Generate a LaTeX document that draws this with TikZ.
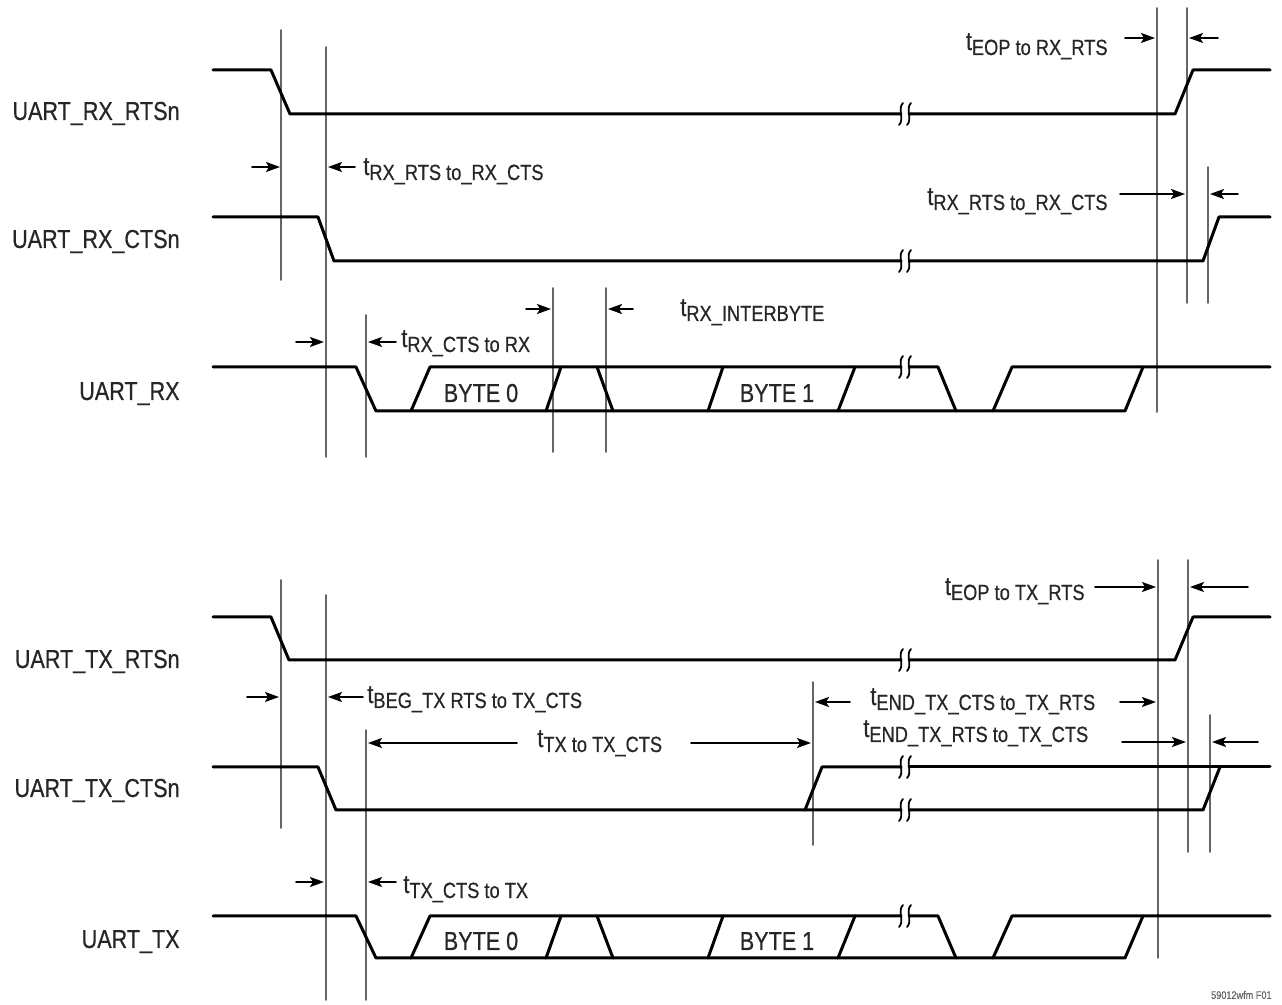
\documentclass[tikz,border=0pt]{standalone}
\usepackage{fontspec}
\setmainfont{Liberation Sans}[FakeStretch=0.83,FakeBold=0.6]
\usetikzlibrary{arrows.meta}
% time label with lowered subscript
\newcommand\tsub[1]{t\raisebox{-2.5pt}{\fontsize{11}{11}\selectfont #1}}
% break mark on a signal line
\newcommand\brk[2]{%
  \draw[line width=0.9pt] (#1-2,#2-11) .. controls (#1-8,#2-5) and (#1,#2+5) .. (#1-6,#2+11);
  \draw[line width=0.9pt] (#1+6,#2-11) .. controls (#1,#2-5) and (#1+8,#2+5) .. (#1+2,#2+11);}
\begin{document}
\begin{tikzpicture}[x=0.5pt,y=-0.5pt, line join=round, line cap=round,
    >={Stealth[length=7pt,width=5pt,inset=1.5pt]},
    sig/.style={line width=1.5pt, black},
    guide/.style={line width=0.8pt, black!60},
    dim/.style={->, line width=0.8pt, black},
    lbl/.style={font=\fontsize{13}{13}\selectfont, text=black!85, inner sep=0pt},
    sname/.style={lbl, anchor=base east}]
  \useasboundingbox (0,0) rectangle (1282,1005);
  \def\xbrk{905}
  %% ---------------- receive side ----------------
  % signal names
  \node[sname] (nrxrts) at (180,120) {UART\_RX\_RTSn};
  \node[sname] (nrxcts) at (180,248) {UART\_RX\_CTSn};
  \node[sname] (nrx) at (180,400) {UART\_RX};
  % guide lines
  \draw[guide] (281,30) -- (281,280);
  \draw[guide] (326,47) -- (326,457);
  \draw[guide] (366,315) -- (366,457);
  \draw[guide] (553,288) -- (553,452);
  \draw[guide] (606,288) -- (606,452);
  \draw[guide] (1157,8) -- (1157,412);
  \draw[guide] (1187,8) -- (1187,303);
  \draw[guide] (1208,167) -- (1208,303);
  % UART_RX_RTSn
  \draw[sig] (213,70) -- (271,70) -- (290,114) -- (\xbrk-4,114);
  \draw[sig] (\xbrk+4,114) -- (1175,114) -- (1193,70) -- (1270,70);
  \brk{\xbrk}{114}
  % UART_RX_CTSn
  \draw[sig] (213,217) -- (318,217) -- (334,261) -- (\xbrk-4,261);
  \draw[sig] (\xbrk+4,261) -- (1203,261) -- (1219,217) -- (1270,217);
  \brk{\xbrk}{261}
  % UART_RX
  \draw[sig] (213,367) -- (356,367) -- (376,411) -- (1125,411) -- (1143,367);
  \draw[sig] (411,411) -- (430,367) -- (\xbrk-4,367);
  \draw[sig] (\xbrk+4,367) -- (938,367) -- (956,411);
  \draw[sig] (546,411) -- (561,367);
  \draw[sig] (597,367) -- (613,411);
  \draw[sig] (708,411) -- (723,367);
  \draw[sig] (838,411) -- (855,367);
  \draw[sig] (993,411) -- (1012,367) -- (1270,367);
  \brk{\xbrk}{367}
  \node[lbl, anchor=base] (rxb0) at (481,402) {BYTE 0};
  \node[lbl, anchor=base] (rxb1) at (777,402) {BYTE 1};
  % timing arrows
  \draw[dim] (252,167) -- (280,167);
  \draw[dim] (355,167) -- (328,167);
  \node[lbl, anchor=base west] (trr1) at (363,175) {\tsub{RX\_RTS to\_RX\_CTS}};
  \draw[dim] (1125,38) -- (1155,38);
  \draw[dim] (1218,38) -- (1189,38);
  \node[lbl, anchor=base east] (teop1) at (1108,50) {\tsub{EOP to RX\_RTS}};
  \draw[dim] (1120,194) -- (1185,194);
  \draw[dim] (1238,194) -- (1210,194);
  \node[lbl, anchor=base east] (trr2) at (1108,205) {\tsub{RX\_RTS to\_RX\_CTS}};
  \draw[dim] (296,342) -- (324,342);
  \draw[dim] (396,342) -- (368,342);
  \node[lbl, anchor=base west] (tcr) at (401,347) {\tsub{RX\_CTS to RX}};
  \draw[dim] (526,309) -- (551,309);
  \draw[dim] (633,309) -- (608,309);
  \node[lbl, anchor=base west] (tib) at (680,316) {\tsub{RX\_INTERBYTE}};
  %% ---------------- transmit side ----------------
  \node[sname] (ntxrts) at (180,668) {UART\_TX\_RTSn};
  \node[sname] (ntxcts) at (180,797) {UART\_TX\_CTSn};
  \node[sname] (ntx) at (180,948) {UART\_TX};
  % guide lines
  \draw[guide] (281,580) -- (281,828);
  \draw[guide] (326,595) -- (326,1000);
  \draw[guide] (366,730) -- (366,1000);
  \draw[guide] (813,682) -- (813,845);
  \draw[guide] (1158,560) -- (1158,958);
  \draw[guide] (1188,560) -- (1188,852);
  \draw[guide] (1210,715) -- (1210,852);
  % UART_TX_RTSn
  \draw[sig] (213,617) -- (271,617) -- (289,660) -- (\xbrk-4,660);
  \draw[sig] (\xbrk+4,660) -- (1175,660) -- (1193,617) -- (1270,617);
  \brk{\xbrk}{660}
  % UART_TX_CTSn
  \draw[sig] (213,767) -- (318,767) -- (336,810) -- (\xbrk-4,810);
  \draw[sig] (\xbrk+4,810) -- (1203,810) -- (1220,767);
  \draw[sig] (805,810) -- (822,767) -- (\xbrk-4,767);
  \draw[sig] (\xbrk+4,767) -- (1270,767);
  \brk{\xbrk}{767}
  \brk{\xbrk}{810}
  % UART_TX
  \draw[sig] (213,916) -- (356,916) -- (376,958) -- (1125,958) -- (1143,916);
  \draw[sig] (411,958) -- (430,916) -- (\xbrk-4,916);
  \draw[sig] (\xbrk+4,916) -- (938,916) -- (956,958);
  \draw[sig] (546,958) -- (561,916);
  \draw[sig] (597,916) -- (613,958);
  \draw[sig] (708,958) -- (723,916);
  \draw[sig] (838,958) -- (855,916);
  \draw[sig] (993,958) -- (1012,916) -- (1270,916);
  \brk{\xbrk}{916}
  \node[lbl, anchor=base] (txb0) at (481,950) {BYTE 0};
  \node[lbl, anchor=base] (txb1) at (777,950) {BYTE 1};
  % timing arrows
  \draw[dim] (1095,587) -- (1156,587);
  \draw[dim] (1248,587) -- (1190,587);
  \node[lbl, anchor=base east] (teop2) at (1085,595) {\tsub{EOP to TX\_RTS}};
  \draw[dim] (247,697) -- (279,697);
  \draw[dim] (363,697) -- (328,697);
  \node[lbl, anchor=base west] (tbeg) at (367,703) {\tsub{BEG\_TX RTS to TX\_CTS}};
  \draw[dim] (850,702) -- (815,702);
  \draw[dim] (1120,702) -- (1156,702);
  \node[lbl, anchor=base west] (tend1) at (870,705) {\tsub{END\_TX\_CTS to\_TX\_RTS}};
  \draw[dim] (517,743) -- (368,743);
  \draw[dim] (691,743) -- (811,743);
  \node[lbl, anchor=base west] (ttx) at (537,747) {\tsub{TX to TX\_CTS}};
  \draw[dim] (1122,742) -- (1186,742);
  \draw[dim] (1258,742) -- (1212,742);
  \node[lbl, anchor=base west] (tend2) at (863,737) {\tsub{END\_TX\_RTS to\_TX\_CTS}};
  \draw[dim] (296,882) -- (324,882);
  \draw[dim] (396,882) -- (368,882);
  \node[lbl, anchor=base west] (tct) at (403,893) {\tsub{TX\_CTS to TX}};
  % figure id
  \node[lbl, anchor=east, font=\fontsize{5.5}{6}\selectfont, text=black!60] (fid) at (1272,995) {59012wfm F01};
\end{tikzpicture}
\end{document}
